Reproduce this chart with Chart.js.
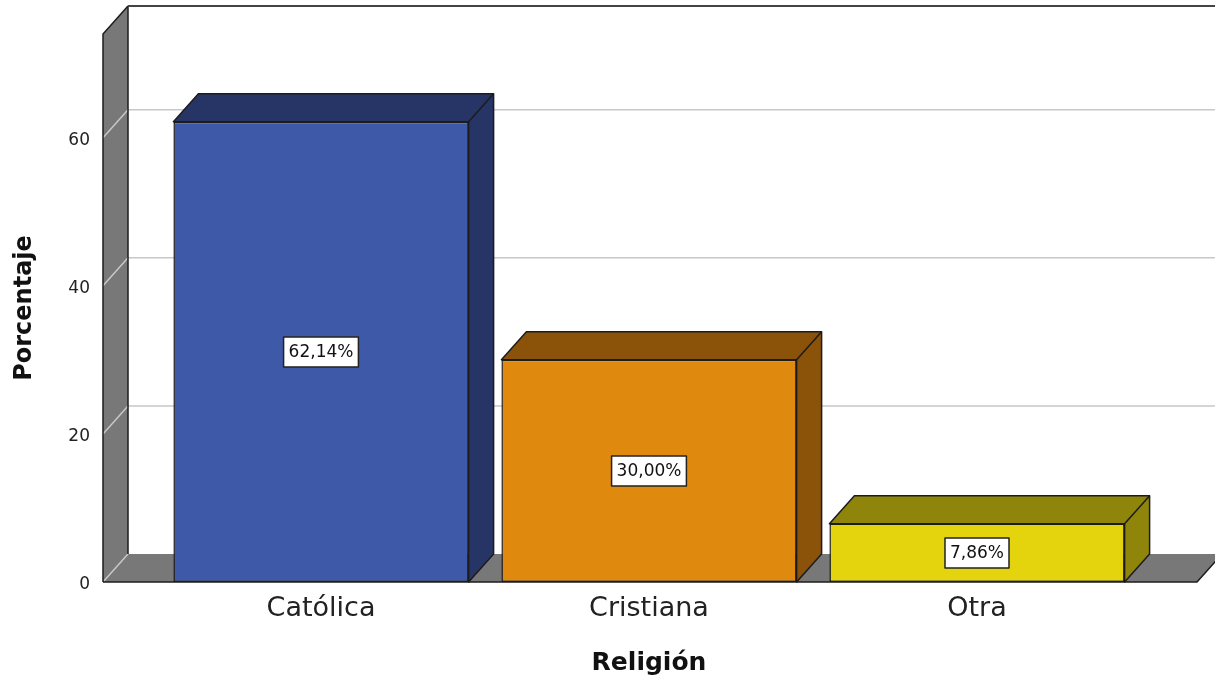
<!DOCTYPE html>
<html lang="es">
<head>
<meta charset="utf-8">
<title>Religión</title>
<script src="https://cdn.jsdelivr.net/npm/chart.js@4.4.1/dist/chart.umd.min.js"></script>
<style>
  html, body { margin: 0; padding: 0; background: #fff; }
  canvas { display: block; }
</style>
</head>
<body>
<canvas id="chart" width="1215" height="681"></canvas>
<script>
// data
const categories = ["Católica", "Cristiana", "Otra"];
const percentages = [62.14, 30.00, 7.86];
const yTicks = [0, 20, 40, 60];

// look
const FONT = "'DejaVu Sans', sans-serif";
const frontColors = ["#3d59a8", "#e0890f", "#e3d40e"];
const shadeColors = ["#263566", "#8b520a", "#8e850a"];
const WALL = "#787878";
const EDGE = "#1c1c1c";
const GRID = "#c8c8c8";
const DX = 25, DY = 28;          // depth of the 3D box
const WALL_LEFT = 54, FLOOR_RIGHT = 56;

const fmt = v => v.toFixed(2).replace(".", ",") + "%";

// walls, floor and grid behind the bars
const walls = {
  id: "walls",
  beforeDatasetsDraw(chart) {
    const { ctx, chartArea: a, scales: { y } } = chart;
    const x0 = a.left - WALL_LEFT, x1 = a.right + FLOOR_RIGHT;
    const bot = y.getPixelForValue(0), top = a.top;
    ctx.save();
    ctx.fillStyle = WALL;
    ctx.beginPath();
    ctx.moveTo(x0, top); ctx.lineTo(x0 + DX, top - DY);
    ctx.lineTo(x0 + DX, bot - DY); ctx.lineTo(x0, bot);
    ctx.closePath(); ctx.fill();
    ctx.beginPath();
    ctx.moveTo(x0, bot); ctx.lineTo(x0 + DX, bot - DY);
    ctx.lineTo(x1 + DX, bot - DY); ctx.lineTo(x1, bot);
    ctx.closePath(); ctx.fill();

    ctx.strokeStyle = GRID;
    ctx.lineWidth = 1.5;
    yTicks.forEach(v => {
      const py = y.getPixelForValue(v);
      ctx.beginPath();
      ctx.moveTo(x0, py); ctx.lineTo(x0 + DX, py - DY);
      if (v > 0) ctx.lineTo(chart.width, py - DY);
      ctx.stroke();
    });

    ctx.strokeStyle = EDGE;
    ctx.beginPath();
    ctx.moveTo(x0, bot); ctx.lineTo(x0, top); ctx.lineTo(x0 + DX, top - DY);
    ctx.moveTo(x0 + DX, top - DY); ctx.lineTo(x0 + DX, bot - DY);
    ctx.moveTo(x0, bot); ctx.lineTo(x1, bot); ctx.lineTo(x1 + DX, bot - DY);
    ctx.stroke();
    ctx.strokeStyle = "#444";
    ctx.lineWidth = 2;
    ctx.beginPath();
    ctx.moveTo(x0 + DX, top - DY); ctx.lineTo(chart.width, top - DY);
    ctx.stroke();
    ctx.restore();
  },
  afterDatasetsDraw(chart) {
    const { ctx, scales: { y } } = chart;
    const meta = chart.getDatasetMeta(0);
    ctx.save();
    ctx.lineWidth = 1.5;
    ctx.strokeStyle = EDGE;
    ctx.lineJoin = "round";
    meta.data.forEach((bar, i) => {
      const { x, y: top, base, width } = bar.getProps(["x", "y", "base", "width"], true);
      const l = x - width / 2, r = x + width / 2;
      ctx.fillStyle = shadeColors[i];
      ctx.beginPath();
      ctx.moveTo(l, top); ctx.lineTo(l + DX, top - DY);
      ctx.lineTo(r + DX, top - DY); ctx.lineTo(r + DX, base - DY);
      ctx.lineTo(r, base); ctx.lineTo(r, top);
      ctx.closePath(); ctx.fill(); ctx.stroke();
      ctx.beginPath();
      ctx.moveTo(r, top); ctx.lineTo(r + DX, top - DY);
      ctx.stroke();
    });

    // value labels in the middle of each bar
    ctx.font = "17px " + FONT;
    ctx.textAlign = "center";
    ctx.textBaseline = "middle";
    meta.data.forEach((bar, i) => {
      const v = percentages[i];
      const cy = y.getPixelForValue(v / 2);
      const text = fmt(v);
      const w = ctx.measureText(text).width + 10, h = 30;
      ctx.fillStyle = "#fff";
      ctx.fillRect(bar.x - w / 2, cy - h / 2, w, h);
      ctx.strokeStyle = "#222";
      ctx.lineWidth = 1.5;
      ctx.strokeRect(bar.x - w / 2, cy - h / 2, w, h);
      ctx.fillStyle = "#111";
      ctx.fillText(text, bar.x, cy + 1);
    });
    ctx.restore();
  }
};

new Chart(document.getElementById("chart"), {
  type: "bar",
  data: {
    labels: categories,
    datasets: [{
      data: percentages,
      backgroundColor: frontColors,
      borderColor: EDGE,
      borderWidth: 1.5,
      borderSkipped: false,
      categoryPercentage: 1,
      barPercentage: 0.9
    }]
  },
  options: {
    responsive: false,
    animation: false,
    devicePixelRatio: 1,
    layout: { padding: { top: 34, right: 74, left: 0, bottom: 0 } },
    plugins: { legend: { display: false }, tooltip: { enabled: false } },
    scales: {
      x: {
        grid: { display: false, drawTicks: false },
        border: { display: false },
        ticks: { color: "#222", padding: 11, font: { family: FONT, size: 27 } },
        title: {
          display: true, text: "Religión", color: "#111",
          font: { family: FONT, size: 25, weight: "bold" },
          padding: { top: 0, bottom: 3 }
        },
        afterFit: s => { s.height = 99; s.paddingLeft = 0; s.paddingRight = 0; }
      },
      y: {
        min: 0, max: 74,
        grid: { display: false, drawTicks: false },
        border: { display: false },
        ticks: { color: "#222", padding: 67, labelOffset: 3, font: { family: FONT, size: 17 } },
        afterBuildTicks: s => { s.ticks = yTicks.map(v => ({ value: v })); },
        title: {
          display: true, text: "Porcentaje", color: "#111",
          font: { family: FONT, size: 24, weight: "bold" },
          padding: { top: 10, bottom: 0 }
        },
        afterFit: s => { s.width = 157; s.paddingTop = 0; s.paddingBottom = 0; }
      }
    }
  },
  plugins: [walls]
});
</script>
</body>
</html>
